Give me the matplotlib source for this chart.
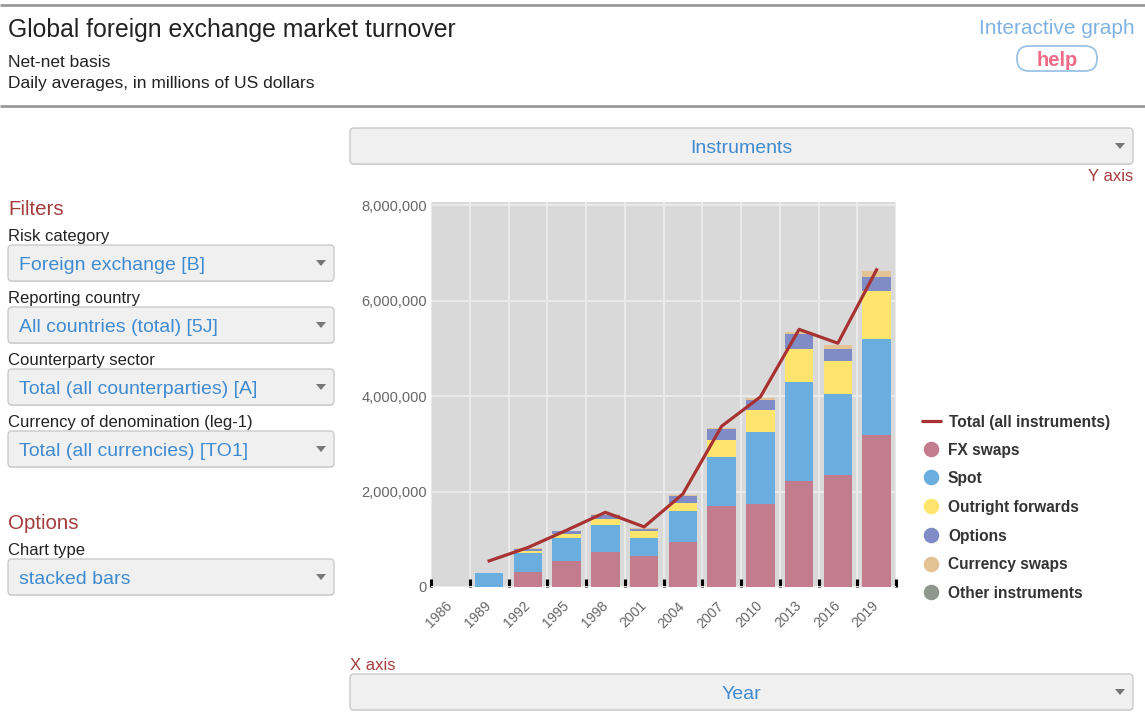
import numpy as np
import matplotlib
matplotlib.use('Agg')
import matplotlib.pyplot as plt
from matplotlib.patches import FancyBboxPatch, Polygon
from matplotlib.ticker import FuncFormatter, FixedLocator

plt.rcParams['font.family'] = ['Liberation Sans', 'DejaVu Sans']

# ---------------- data (millions of US dollars) ----------------
years = ['1986', '1989', '1992', '1995', '1998', '2001', '2004', '2007', '2010', '2013', '2016', '2019']
fx_swaps = [0, 0, 316000, 540000, 730000, 645000, 947000, 1690000, 1747000, 2217000, 2358000, 3190000]
spot = [0, 288000, 393000, 490000, 560000, 385000, 638000, 1030000, 1493000, 2078000, 1692000, 2010000]
outright_forwards = [0, 0, 55000, 80000, 127000, 140000, 185000, 360000, 480000, 685000, 687000, 996000]
options = [0, 0, 42000, 60000, 83000, 50000, 146000, 240000, 210000, 325000, 243000, 304000]
currency_swaps = [0, 0, 4000, 6000, 28000, 10000, 12000, 22000, 40000, 49000, 87000, 117000]
other_instruments = [0, 0, 0, 0, 0, 0, 0, 0, 0, 0, 0, 0]
total = [np.nan, 547000, 827000, 1190000, 1565000, 1260000, 1950000, 3370000, 3985000, 5400000, 5110000, 6650000]

series_names = ['FX swaps', 'Spot', 'Outright forwards', 'Options', 'Currency swaps', 'Other instruments']
series_values = [fx_swaps, spot, outright_forwards, options, currency_swaps, other_instruments]
series_colors = ['#c27c8e', '#6aaee0', '#ffe56e', '#7f8cc6', '#e3c393', '#8f978f']
total_label = 'Total (all instruments)'
total_color = '#a83232'
y_ticks = [0, 2000000, 4000000, 6000000, 8000000]

# ---------------- figure ----------------
W, H = 1145, 714
fig = plt.figure(figsize=(W / 100, H / 100), dpi=100)
fig.patch.set_facecolor('white')

ui = fig.add_axes([0, 0, 1, 1], zorder=0)
ui.set_xlim(0, W)
ui.set_ylim(H, 0)
ui.axis('off')

BLUE = '#3f8bd2'
RED = '#a43c3c'
DARK = '#222222'
DY = 2.5  # visual centring offset

# header rules
ui.plot([0, W], [5, 5], color='#9a9a9a', lw=2.0, solid_capstyle='butt')
ui.plot([0, W], [106, 106], color='#9a9a9a', lw=2.0, solid_capstyle='butt')

ui.text(8, 28 + DY, 'Global foreign exchange market turnover', fontsize=17.8, color=DARK, va='center', ha='left')
ui.text(8, 60 + DY, 'Net-net basis', fontsize=12.5, color=DARK, va='center', ha='left')
ui.text(8, 81 + DY, 'Daily averages, in millions of US dollars', fontsize=12.5, color=DARK, va='center', ha='left')
ui.text(1135, 26 + DY, 'Interactive graph', fontsize=15, color='#7fb2e2', va='center', ha='right')
ui.add_patch(FancyBboxPatch((1017, 46), 80, 25, boxstyle='round,pad=0,rounding_size=12',
                            fc='white', ec='#9cc3e6', lw=1.3))
ui.text(1057, 58.5 + DY, 'help', fontsize=14.5, color='#ee6a86', fontweight='bold', va='center', ha='center')


def dropdown(x0, y0, x1, y1, text, center=False):
    ui.add_patch(FancyBboxPatch((x0 + 4, y0 + 5), x1 - x0 - 8, y1 - y0 - 8,
                                boxstyle='round,pad=4,rounding_size=4',
                                fc='#dedede', ec='none', zorder=1))
    ui.add_patch(FancyBboxPatch((x0 + 4, y0 + 4), x1 - x0 - 8, y1 - y0 - 8,
                                boxstyle='round,pad=4,rounding_size=4',
                                fc='#f0f0f0', ec='#cacaca', lw=1.0, zorder=2))
    yc = (y0 + y1) / 2
    if center:
        ui.text((x0 + x1) / 2, yc + DY, text, fontsize=14, color=BLUE, va='center', ha='center', zorder=3)
    else:
        ui.text(x0 + 11, yc + DY, text, fontsize=14, color=BLUE, va='center', ha='left', zorder=3)
    ax_ = x1 - 13
    ui.add_patch(Polygon([[ax_ - 5, yc - 3], [ax_ + 5, yc - 3], [ax_, yc + 3]], closed=True,
                         fc='#777777', ec='none', zorder=3))


ui.text(8, 207 + DY, 'Filters', fontsize=14.8, color=RED, va='center', ha='left')
ui.text(8, 234 + DY, 'Risk category', fontsize=12, color=DARK, va='center', ha='left')
dropdown(8, 245, 334, 281, 'Foreign exchange [B]')
ui.text(8, 296 + DY, 'Reporting country', fontsize=12, color=DARK, va='center', ha='left')
dropdown(8, 307, 334, 343, 'All countries (total) [5J]')
ui.text(8, 358 + DY, 'Counterparty sector', fontsize=12, color=DARK, va='center', ha='left')
dropdown(8, 369, 334, 405, 'Total (all counterparties) [A]')
ui.text(8, 420 + DY, 'Currency of denomination (leg-1)', fontsize=12, color=DARK, va='center', ha='left')
dropdown(8, 431, 334, 467, 'Total (all currencies) [TO1]')
ui.text(8, 521 + DY, 'Options', fontsize=14.8, color=RED, va='center', ha='left')
ui.text(8, 548 + DY, 'Chart type', fontsize=12, color=DARK, va='center', ha='left')
dropdown(8, 559, 334, 595, 'stacked bars')

dropdown(350, 128, 1133, 164, 'Instruments', center=True)
ui.text(1133, 174 + DY, 'Y axis', fontsize=12, color=RED, va='center', ha='right')
ui.text(350, 663 + DY, 'X axis', fontsize=12, color=RED, va='center', ha='left')
dropdown(350, 674, 1133, 710, 'Year', center=True)

# ---------------- chart ----------------
L, R, T, B = 431, 896, 202, 587
ax = fig.add_axes([L / W, (H - B) / H, (R - L) / W, (B - T) / H], zorder=2)
ax.set_facecolor('#d9d9d9')
x = np.arange(len(years))
ax.set_xlim(-0.5, len(years) - 0.5)
ax.set_ylim(0, 8070000)

bottom = np.zeros(len(years))
for vals, col in zip(series_values, series_colors):
    v = np.array(vals, dtype=float)
    ax.bar(x, v, 0.74, bottom=bottom, color=col, edgecolor='none', zorder=2)
    bottom += v
ax.plot(x, total, color=total_color, lw=2.3, zorder=3)

for s in ax.spines.values():
    s.set_visible(False)

ax.yaxis.set_major_locator(FixedLocator(y_ticks))
ax.yaxis.set_major_formatter(FuncFormatter(lambda v, p: f'{int(v):,}'))
ax.tick_params(axis='y', length=0, pad=3, labelsize=10.5, labelcolor='#666666')
ax.grid(axis='y', which='major', color='#ececec', lw=1.3, zorder=0)

ax.set_xticks(x)
ax.set_xticklabels(years, rotation=45, ha='right', va='center', rotation_mode='anchor')
ax.set_xticks(np.arange(len(years) + 1) - 0.5, minor=True)
ax.tick_params(axis='x', which='major', length=0, pad=12, labelsize=10, labelcolor='#666666')
ax.tick_params(axis='x', which='minor', direction='in', length=5.5, width=2.2, color='black')
ax.grid(axis='x', which='minor', color='#ececec', lw=1.3, zorder=0)
ax.set_axisbelow(True)

# ---------------- legend ----------------
lx, ly0, dy = 931, 421, 28.7
ui.plot([921, 942], [ly0, ly0], color=total_color, lw=2.3, solid_capstyle='butt', zorder=5)
ui.text(949, ly0 + 1.5, total_label, fontsize=11.2, fontweight='bold', color='#333333', va='center', ha='left', zorder=5)
for i, (name, col) in enumerate(zip(series_names, series_colors)):
    yy = ly0 + dy * (i + 1) - 1
    ui.plot([lx], [yy], 'o', ms=11.2, color=col, mec='none', zorder=5)
    ui.text(948, yy + 1.5, name, fontsize=11.2, fontweight='bold', color='#333333', va='center', ha='left', zorder=5)

fig.savefig('out.png', dpi=100, facecolor='white')
